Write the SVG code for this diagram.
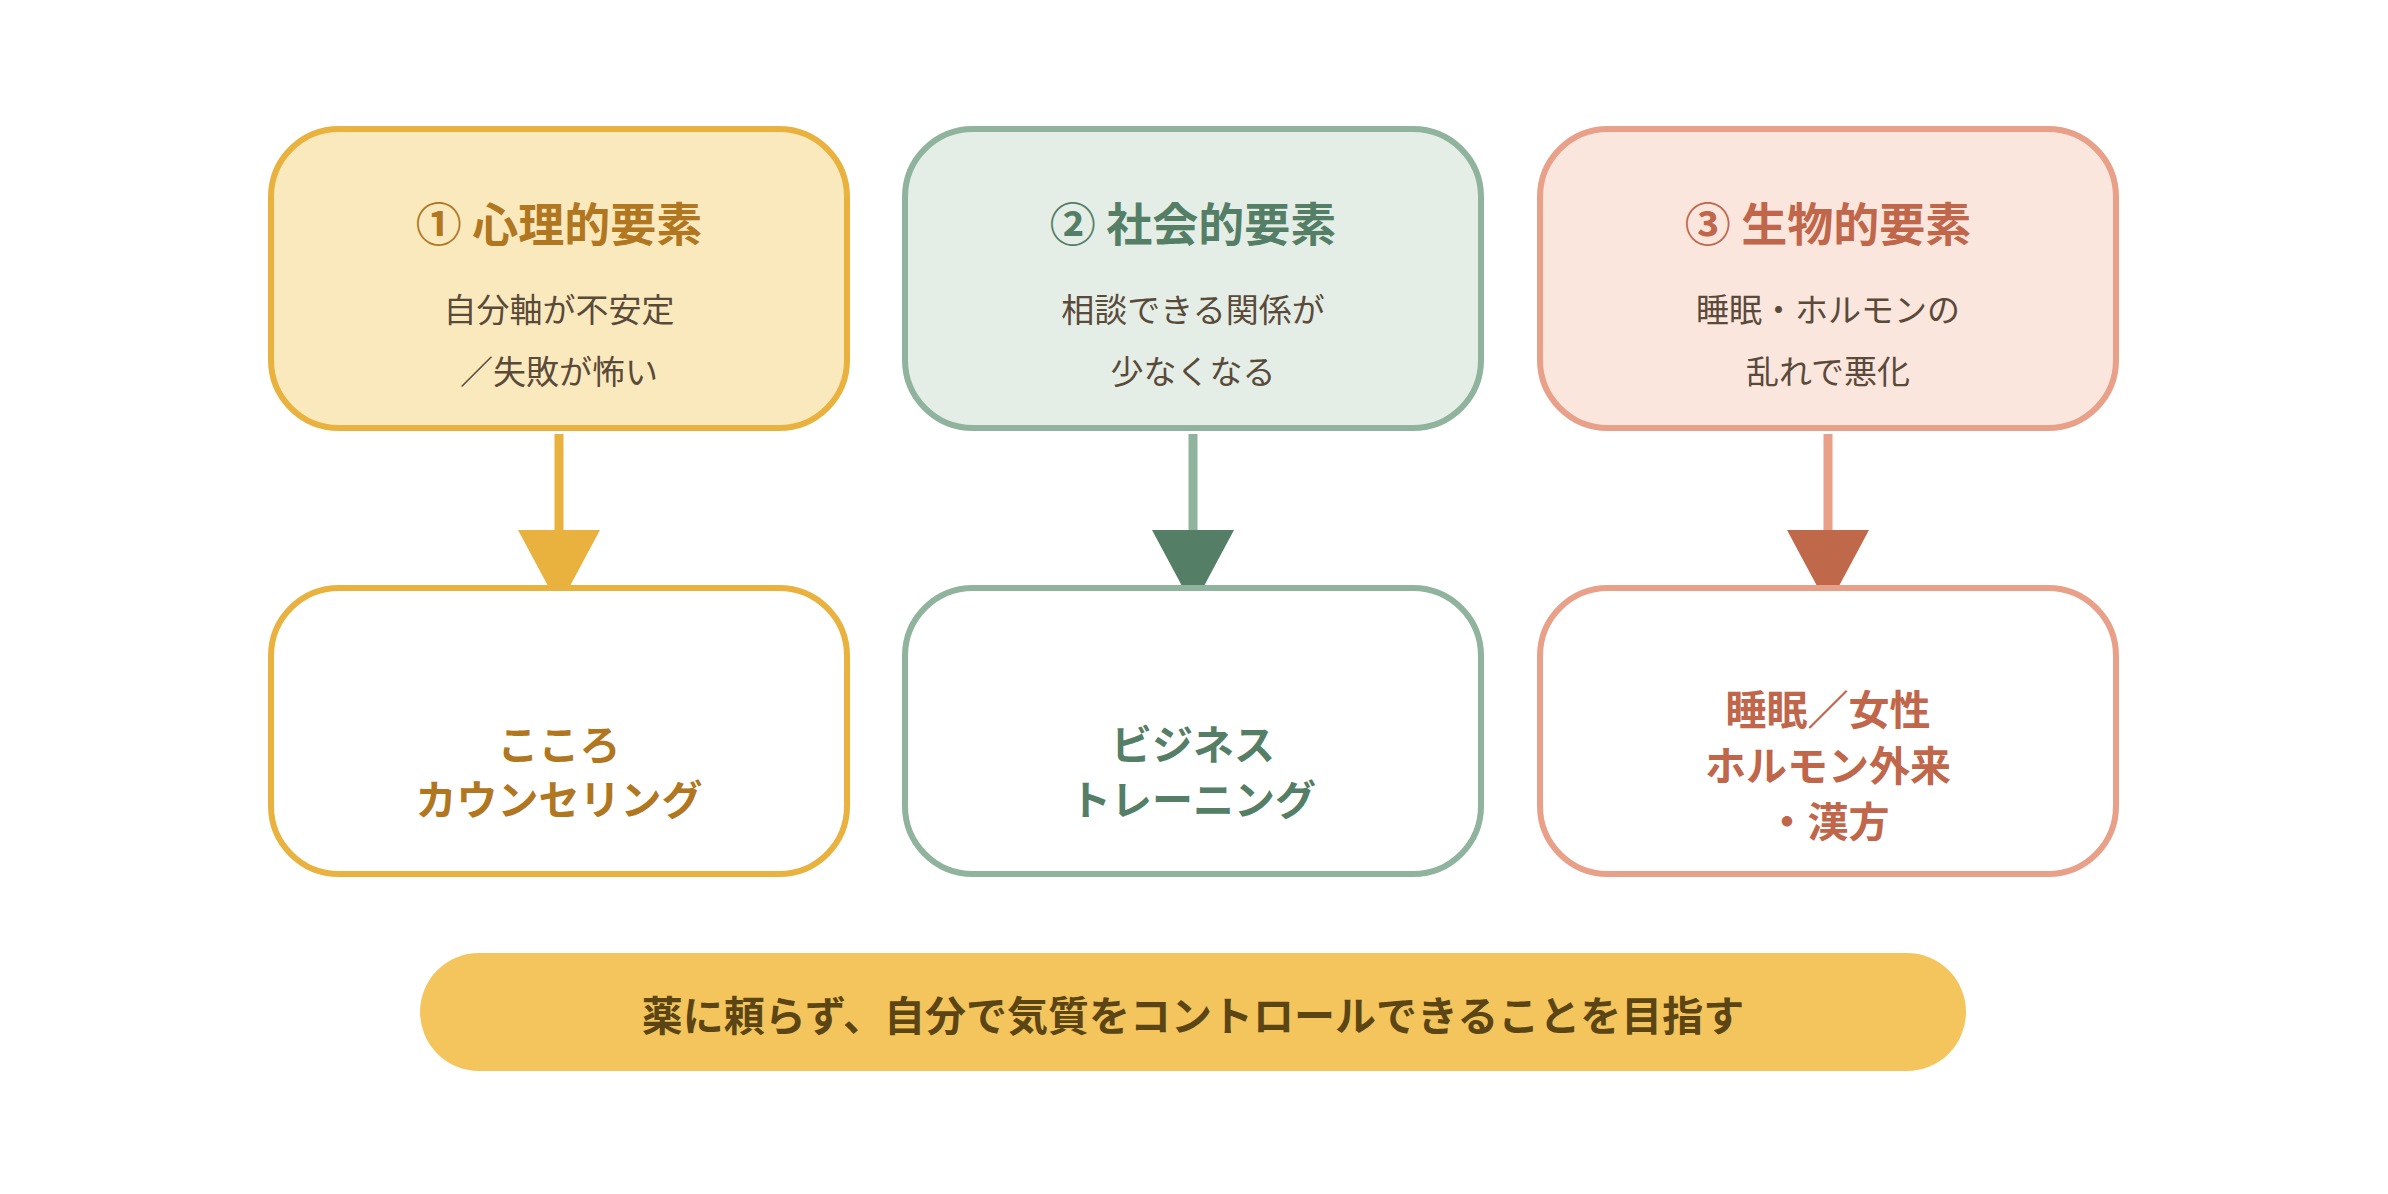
<svg xmlns="http://www.w3.org/2000/svg" width="2388" height="1194" viewBox="0 0 2388 1194">
<style>
text{font-family:"Noto Sans CJK JP","Noto Sans",sans-serif;text-anchor:middle;dominant-baseline:central}
.t{font-size:46px;font-weight:700}
.s{font-size:33px;fill:#5A4A3A}
.b{font-size:41px;font-weight:700}
</style>
<rect width="2388" height="1194" fill="#fff"/>
<g id="connectors">
<line x1="559" y1="434" x2="559" y2="535" stroke="#E9B23F" stroke-width="9"/>
<polygon points="518,530 600,530 570,586 548,586" fill="#E9B23F"/>
<line x1="1193" y1="434" x2="1193" y2="535" stroke="#8FB39C" stroke-width="9"/>
<polygon points="1152,530 1234,530 1204,586 1182,586" fill="#557E66"/>
<line x1="1828" y1="434" x2="1828" y2="535" stroke="#E8A088" stroke-width="9"/>
<polygon points="1787,530 1869,530 1839,586 1817,586" fill="#C0684A"/>
</g>
<g id="n1">
<rect x="271" y="129" width="576" height="299" rx="68" fill="#FBE9BE" stroke="#E9B23F" stroke-width="6"/>
<text x="559" y="221" class="t" fill="#B07620">① 心理的要素</text>
<text x="559" y="308" class="s">自分軸が不安定</text>
<text x="559" y="370" class="s">／失敗が怖い</text>
</g>
<g id="n2">
<rect x="905" y="129" width="576" height="299" rx="68" fill="#E4EEE6" stroke="#8FB39C" stroke-width="6"/>
<text x="1193" y="221" class="t" fill="#557E66">② 社会的要素</text>
<text x="1193" y="308" class="s">相談できる関係が</text>
<text x="1193" y="370" class="s">少なくなる</text>
</g>
<g id="n3">
<rect x="1540" y="129" width="576" height="299" rx="68" fill="#FBE6DE" stroke="#E8A088" stroke-width="6"/>
<text x="1828" y="221" class="t" fill="#C0664A">③ 生物的要素</text>
<text x="1828" y="308" class="s">睡眠・ホルモンの</text>
<text x="1828" y="370" class="s">乱れで悪化</text>
</g>
<g id="n4">
<rect x="271" y="588" width="576" height="286" rx="68" fill="#fff" stroke="#E9B23F" stroke-width="6"/>
<text x="559" y="742" class="b" fill="#B07620">こころ</text>
<text x="559" y="797" class="b" fill="#B07620">カウンセリング</text>
</g>
<g id="n5">
<rect x="905" y="588" width="576" height="286" rx="68" fill="#fff" stroke="#8FB39C" stroke-width="6"/>
<text x="1193" y="742" class="b" fill="#557E66">ビジネス</text>
<text x="1193" y="797" class="b" fill="#557E66">トレーニング</text>
</g>
<g id="n6">
<rect x="1540" y="588" width="576" height="286" rx="68" fill="#fff" stroke="#E8A088" stroke-width="6"/>
<text x="1828" y="707" class="b" fill="#C0664A">睡眠／女性</text>
<text x="1828" y="763" class="b" fill="#C0664A">ホルモン外来</text>
<text x="1828" y="819" class="b" fill="#C0664A">・漢方</text>
</g>
<g id="goal">
<rect x="420" y="953" width="1546" height="118" rx="59" fill="#F3C55C"/>
<text x="1193" y="1013" class="b" fill="#5C4514">薬に頼らず、自分で気質をコントロールできることを目指す</text>
</g>
</svg>
